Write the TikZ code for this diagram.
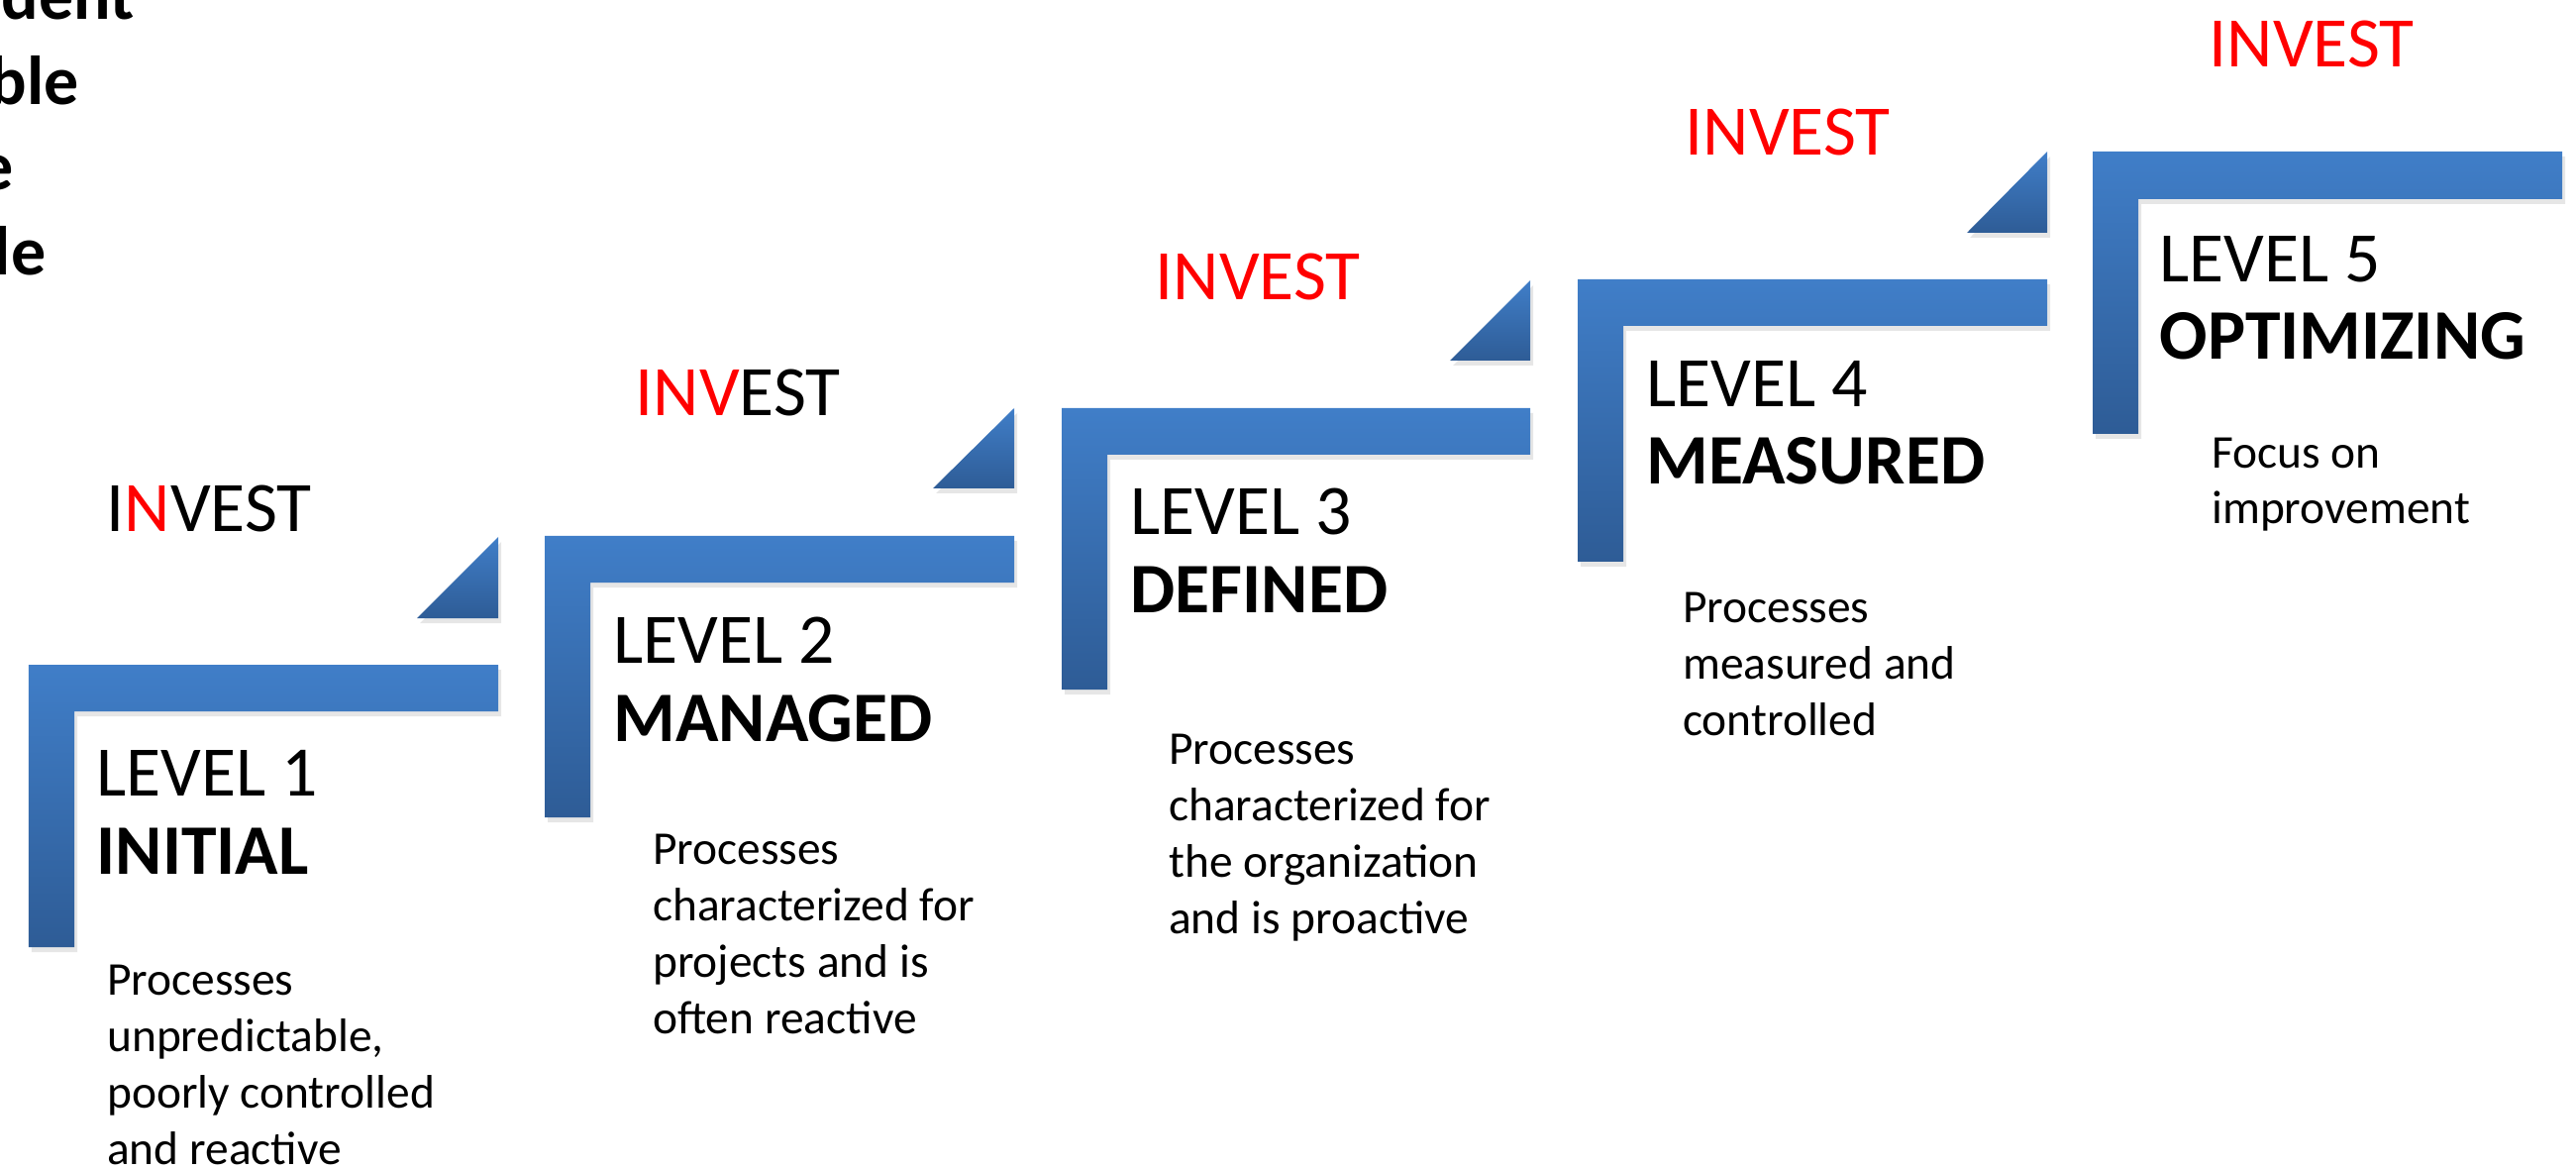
\documentclass[tikz,border=0pt]{standalone}
\usepackage{fontspec}
\setmainfont{Carlito}
\usetikzlibrary{shadows}
\definecolor{stepblue}{RGB}{64,126,200}
\definecolor{stepdark}{RGB}{46,92,150}
\definecolor{investred}{RGB}{255,0,0}

\begin{document}
\begin{tikzpicture}
    [stepbar/.style={top color=stepblue, bottom color=stepdark, draw=none,
       drop shadow={shadow xshift=0.03, shadow yshift=-0.05, opacity=0.2}},
     investlbl/.style={inner sep=0pt, anchor=base west, font=\fontsize{20.4}{22.2}\selectfont},
     levellbl/.style={inner sep=0pt, anchor=base west, align=left, font=\fontsize{20.4}{22.2}\selectfont},
     desclbl/.style={inner sep=0pt, anchor=base west, align=left, font=\fontsize{13.5}{16.2}\selectfont},
     sidelbl/.style={inner sep=0pt, anchor=base west, align=left, font=\fontsize{19.9}{24.5}\selectfont\bfseries}]
    \useasboundingbox (0,0) rectangle (26.01,11.8);
    \clip (0,0) rectangle (26.01,11.8);
    % the stairs
    \path[stepbar] (0.29,5.09) -- (5.03,5.09) -- (5.03,4.62) -- (0.75,4.62) -- (0.75,2.24) -- (0.29,2.24) -- cycle;
    \path[stepbar] (5.50,6.39) -- (10.24,6.39) -- (10.24,5.92) -- (5.96,5.92) -- (5.96,3.55) -- (5.50,3.55) -- cycle;
    \path[stepbar] (10.72,7.68) -- (15.45,7.68) -- (15.45,7.21) -- (11.18,7.21) -- (11.18,4.84) -- (10.72,4.84) -- cycle;
    \path[stepbar] (15.93,8.98) -- (20.67,8.98) -- (20.67,8.51) -- (16.39,8.51) -- (16.39,6.13) -- (15.93,6.13) -- cycle;
    \path[stepbar] (21.13,10.27) -- (25.87,10.27) -- (25.87,9.79) -- (21.59,9.79) -- (21.59,7.42) -- (21.13,7.42) -- cycle;
    % small wedges
    \path[stepbar] (4.21,5.56) -- (5.03,5.56) -- (5.03,6.38) -- cycle;
    \path[stepbar] (9.42,6.87) -- (10.24,6.87) -- (10.24,7.68) -- cycle;
    \path[stepbar] (14.64,8.16) -- (15.45,8.16) -- (15.45,8.97) -- cycle;
    \path[stepbar] (19.86,9.45) -- (20.67,9.45) -- (20.67,10.27) -- cycle;
    % INVEST (base = last line)
    \node[sidelbl] (acronym) at (-2.38,9.02) {Independent\\Negotiable\\Valuable\\Estimable};
    \node[investlbl] (invest1) at (1.07,6.43) {I\textcolor{investred}{N}VEST};
    \node[investlbl] (invest2) at (6.41,7.60) {\textcolor{investred}{INV}EST};
    \node[investlbl, text=investred] (invest3) at (11.66,8.77) {INVEST};
    \node[investlbl, text=investred] (invest4) at (17.01,10.23) {INVEST};
    \node[investlbl, text=investred] (invest5) at (22.30,11.12) {INVEST};
    % levels
    \node[levellbl] (level1) at (0.97,2.98) {LEVEL 1\\\textbf{INITIAL}};
    \node[levellbl] (level2) at (6.19,4.32) {LEVEL 2\\\textbf{MANAGED}};
    \node[levellbl] (level3) at (11.41,5.62) {LEVEL 3\\\textbf{DEFINED}};
    \node[levellbl] (level4) at (16.62,6.91) {LEVEL 4\\\textbf{MEASURED}};
    \node[levellbl] (level5) at (21.80,8.17) {LEVEL 5\\\textbf{OPTIMIZING}};
    \node[desclbl] (desc1) at (1.075,0.05) {Processes\\unpredictable,\\poorly controlled\\and reactive};
    \node[desclbl] (desc2) at (6.585,1.37) {Processes\\characterized for\\projects and is\\often reactive};
    \node[desclbl] (desc3) at (11.795,2.38) {Processes\\characterized for\\the organization\\and is proactive};
    \node[desclbl] (desc4) at (16.985,4.38) {Processes\\measured and\\controlled};
    \node[desclbl] (desc5) at (22.325,6.51) {Focus on\\improvement};
\end{tikzpicture}
\end{document}
